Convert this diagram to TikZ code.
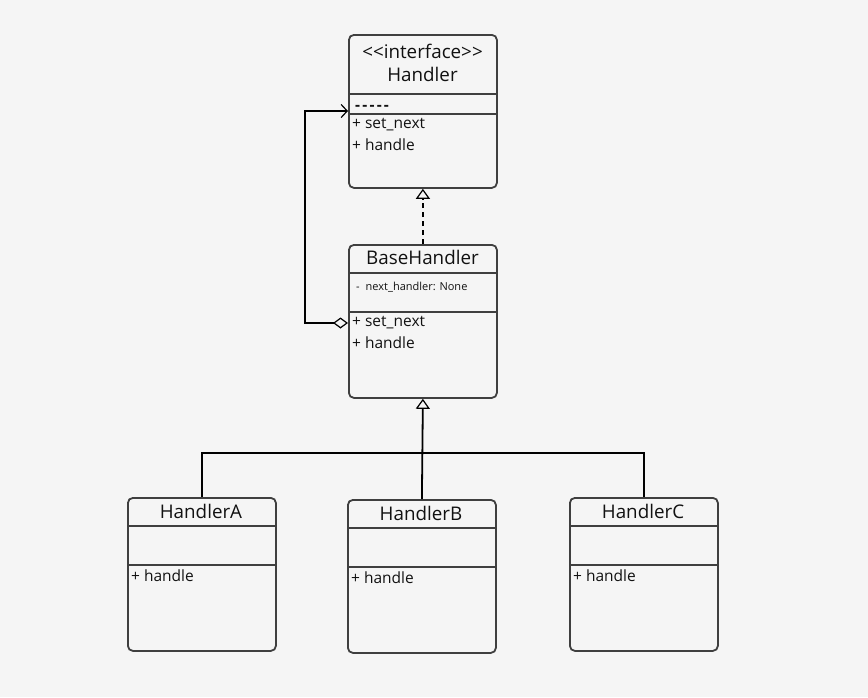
\documentclass[tikz,border=0pt]{standalone}
\usepackage{fontspec}
\setmainfont{Open Sans}
\usetikzlibrary{arrows.meta,calc}
\definecolor{bg}{HTML}{F5F5F5}
\definecolor{frame}{HTML}{3F3F3F}
\definecolor{ink}{HTML}{111111}
\begin{document}
\begin{tikzpicture}[x=1pt,y=-1pt,
  classbox/.style={draw=frame, line width=1.8pt, rounded corners=5pt, fill=bg,
    minimum width=148pt, minimum height=153pt, inner sep=0pt, anchor=north west},
  divider/.style={draw=frame, line width=1.8pt},
  title/.style={text=ink, font=\fontsize{18.8}{22}\selectfont, inner sep=0pt, anchor=center},
  member/.style={text=ink, font=\fontsize{15.5}{18}\selectfont, inner sep=0pt, anchor=west},
  small/.style={text=ink, font=\fontsize{11}{13}\selectfont, inner sep=0pt, anchor=west},
  link/.style={draw=black, line width=1.8pt},
  realize/.style={link, dashed, dash pattern=on 5pt off 4pt, -{Triangle[open, length=10pt, width=14pt, fill=bg, line width=1.2pt]}},
  inherit/.style={link, -{Triangle[open, length=10pt, width=14pt, fill=bg, line width=1.2pt]}}
]
% canvas
\fill[bg] (0,0) rectangle (868,697);
\useasboundingbox (0,0) rectangle (868,697);

% interface Handler
\node[classbox] (handler) at (348,34) {};
\draw[divider] ($(handler.north west)+(0,60)$) -- ($(handler.north east)+(0,60)$);
\draw[divider] ($(handler.north west)+(0,80)$) -- ($(handler.north east)+(0,80)$);
\node[title] (hstereo) at (422.5,51) {<{}<interface>{}>};
\node[title] (hname) at (422.5,74) {Handler};
\node[member, font=\fontsize{15.5}{18}\selectfont\bfseries] (hdots) at (355,107.5) {{-}\hspace{2.2pt}{-}\hspace{2.2pt}{-}\hspace{2.2pt}{-}\hspace{2.2pt}{-}};
\coordinate (hin) at ($(handler.north west)+(0,77)$);
\node[member] (hset) at (352,125) {+ set\_next};
\node[member] (hhandle) at (352,145) {+ handle};

% BaseHandler
\node[classbox] (base) at (348,244) {};
\draw[divider] ($(base.north west)+(0,29)$) -- ($(base.north east)+(0,29)$);
\draw[divider] ($(base.north west)+(0,68)$) -- ($(base.north east)+(0,68)$);
\node[title] (bname) at (422.5,257) {BaseHandler};
\node[small] (bfield) at (356,287) {-\hspace{6pt}next\_handler: None};
\node[member] (bset) at (352,323) {+ set\_next};
\node[member] (bhandle) at (352,343) {+ handle};

% concrete handlers
\node[classbox] (ha) at (127,497) {};
\draw[divider] ($(ha.north west)+(0,29)$) -- ($(ha.north east)+(0,29)$);
\draw[divider] ($(ha.north west)+(0,68)$) -- ($(ha.north east)+(0,68)$);
\node[title] (haname) at (201,511) {HandlerA};
\node[member] (hahandle) at (131,576) {+ handle};

\node[classbox] (hb) at (347,499) {};
\draw[divider] ($(hb.north west)+(0,29)$) -- ($(hb.north east)+(0,29)$);
\draw[divider] ($(hb.north west)+(0,68)$) -- ($(hb.north east)+(0,68)$);
\node[title] (hbname) at (421,513) {HandlerB};
\node[member] (hbhandle) at (351,578) {+ handle};

\node[classbox] (hc) at (569,497) {};
\draw[divider] ($(hc.north west)+(0,29)$) -- ($(hc.north east)+(0,29)$);
\draw[divider] ($(hc.north west)+(0,68)$) -- ($(hc.north east)+(0,68)$);
\node[title] (hcname) at (643,511) {HandlerC};
\node[member] (hchandle) at (573,576) {+ handle};

% BaseHandler realizes Handler
\draw[realize] (base.north) -- (handler.south);

% aggregation: BaseHandler holds the next Handler
\draw[link, {Diamond[open, length=15pt, width=11pt, fill=bg, line width=1.2pt]}-{Straight Barb[length=6pt, width=13pt, line width=1.2pt]}]
  (base.west |- bset.center) -- ++(-43,0) |- (hin);

% concrete handlers extend BaseHandler
\coordinate (bus) at (422,453);
\draw[inherit] (hb.north) -- (base.south);
\draw[link] (ha.north) |- (bus) -| (hc.north);
\end{tikzpicture}
\end{document}
